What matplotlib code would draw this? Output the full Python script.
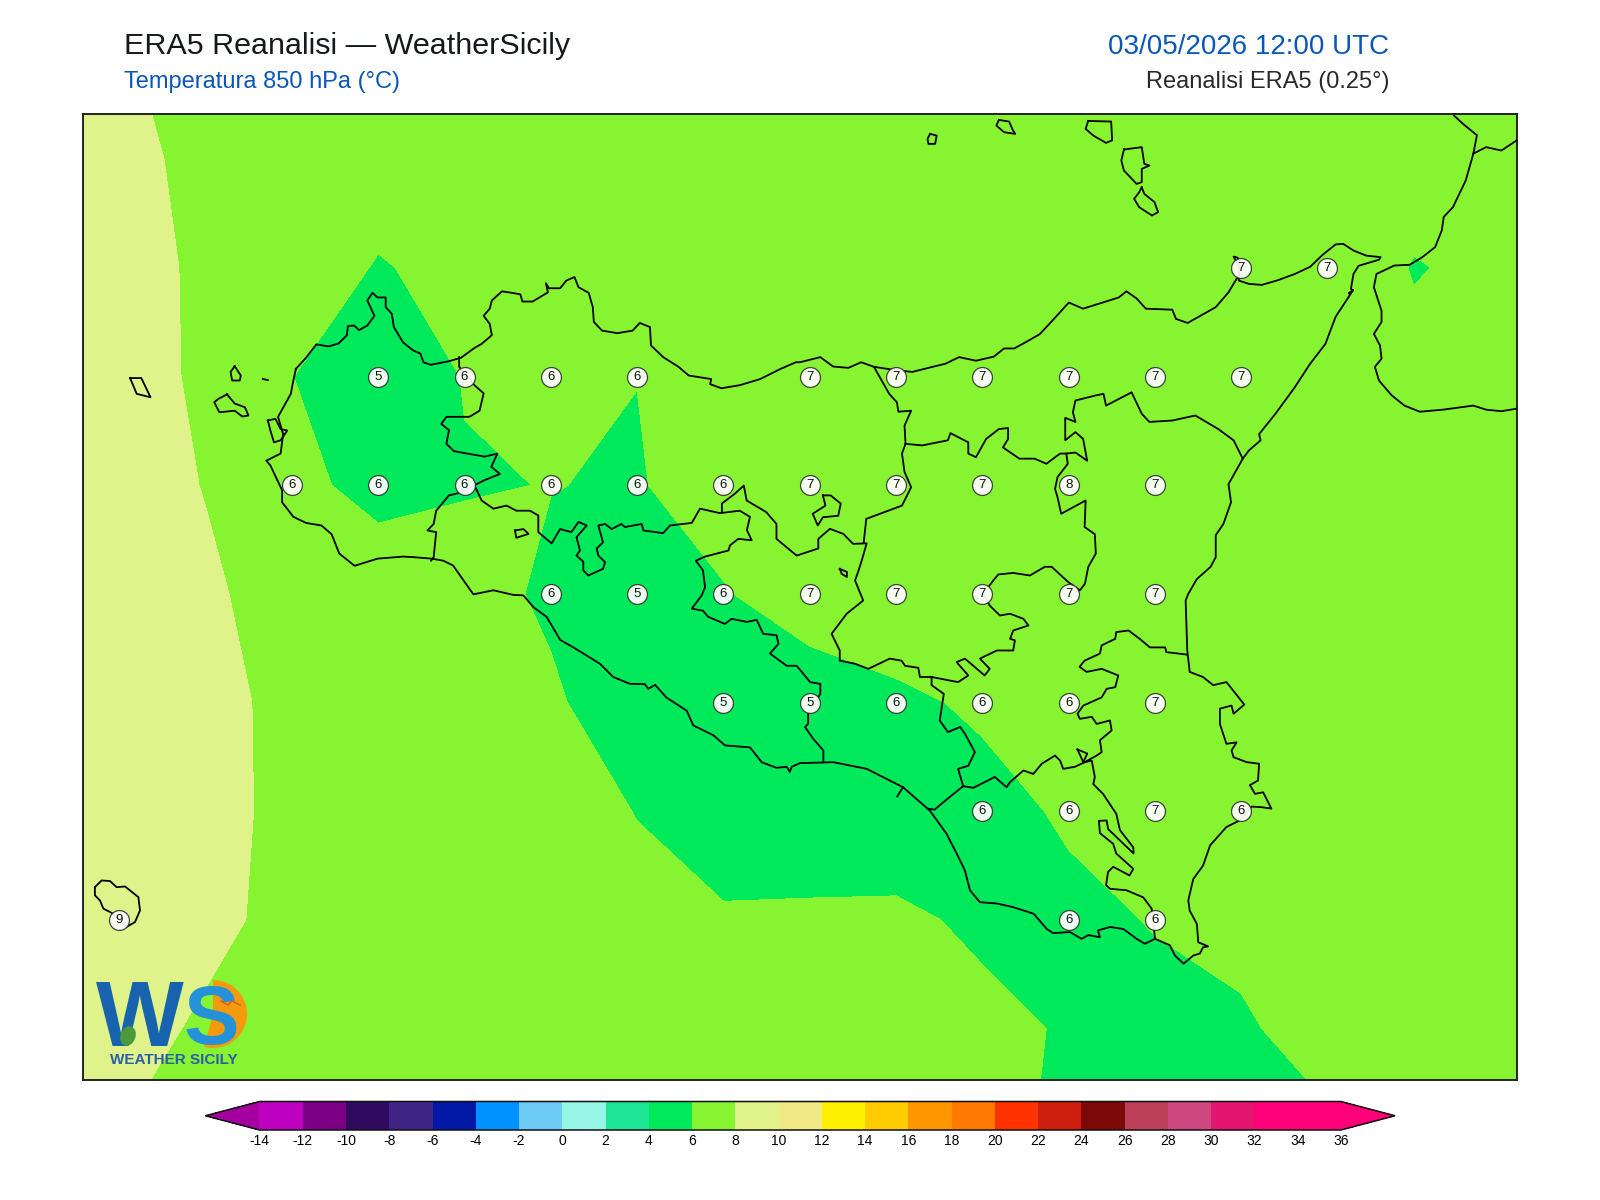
import numpy as np
import matplotlib
matplotlib.use("Agg")
import matplotlib.pyplot as plt
from matplotlib.colors import ListedColormap, BoundaryNorm
from matplotlib.patches import Wedge, Ellipse
from matplotlib.lines import Line2D
from matplotlib.transforms import IdentityTransform

plt.rcParams['font.family'] = ['Liberation Sans', 'DejaVu Sans']

# ---------------------------------------------------------------- data
lons = [11.75, 12.0, 12.25, 12.5, 12.75, 13.0, 13.25, 13.5, 13.75, 14.0, 14.25,
        14.5, 14.75, 15.0, 15.25, 15.5, 15.75, 16.0, 16.25]
lats = [38.75, 38.5, 38.25, 38.0, 37.75, 37.5, 37.25, 37.0, 36.75, 36.5, 36.25]

t_3875 = [8.5, 8.1, 7.51, 7.2, 6.9, 6.9, 6.9, 6.9, 6.9, 7.0, 7.0, 7.0, 7.0, 7.0, 7.0, 6.9, 6.8, 6.7, 6.6]
t_3850 = [8.6, 8.3, 7.72, 7.1, 6.67, 6.7, 6.7, 6.7, 6.8, 6.9, 6.9, 6.9, 6.9, 6.9, 6.9, 6.8, 6.4, 6.5, 6.5]
t_3825 = [8.7, 8.4, 7.82, 6.81, 5.9, 6.4, 6.5, 6.6, 6.7, 6.8, 6.9, 6.9, 6.9, 6.9, 6.8, 6.66, 5.95, 6.2, 6.4]
t_3800 = [8.9, 8.5, 7.80, 6.014, 5.3, 6.04, 6.2, 6.01, 6.6, 6.7, 6.9, 6.9, 7.0, 7.0, 6.9, 6.8, 6.26, 6.4, 6.5]
t_3775 = [9.0, 8.6, 7.95, 6.34, 5.6, 5.94, 6.0175, 5.93, 6.47, 6.9, 7.0, 7.2, 7.55, 7.2, 7.0, 6.9, 6.8, 6.8, 6.8]
t_3750 = [9.1, 8.7, 8.2, 7.46, 6.74, 6.35, 5.85, 5.2, 5.935, 6.5, 6.6, 7.0, 7.1, 7.0, 6.9, 6.9, 6.9, 6.9, 6.9]
t_3725 = [9.1, 8.8, 8.3, 7.74, 7.3, 6.9, 6.13, 5.45, 5.2, 5.46, 5.83, 6.13, 6.3, 6.6, 6.7, 6.8, 6.8, 6.8, 6.8]
t_3700 = [9.1, 8.8, 8.3, 7.76, 7.3, 7.0, 6.6, 5.96, 4.78, 5.2, 5.47, 5.72, 6.11, 6.6, 6.4, 6.6, 6.7, 6.7, 6.7]
t_3675 = [9.0, 8.7, 8.2, 7.77, 7.4, 7.1, 6.8, 6.4, 6.25, 6.2, 6.15, 5.86, 5.80, 6.04, 6.3, 6.4, 6.5, 6.6, 6.6]
t_3650 = [8.6, 8.31, 7.88, 7.6, 7.4, 7.2, 7.0, 6.9, 6.7, 6.6, 6.5, 6.2, 5.93, 5.77, 5.856, 6.456, 6.6, 6.6, 6.6]
t_3625 = [8.3, 7.98, 7.7, 7.5, 7.4, 7.2, 7.1, 7.0, 6.9, 6.7, 6.5, 6.3, 5.8, 5.5, 5.4, 5.79, 6.3, 6.5, 6.6]

# grid points that carry a value label: latitude -> list of longitudes
labelled = {
    38.25: [15.25, 15.5],
    38.0: [12.75, 13.0, 13.25, 13.5, 14.0, 14.25, 14.5, 14.75, 15.0, 15.25],
    37.75: [12.5, 12.75, 13.0, 13.25, 13.5, 13.75, 14.0, 14.25, 14.5, 14.75, 15.0],
    37.5: [13.25, 13.5, 13.75, 14.0, 14.25, 14.5, 14.75, 15.0],
    37.25: [13.75, 14.0, 14.25, 14.5, 14.75, 15.0],
    37.0: [14.5, 14.75, 15.0, 15.25],
    36.75: [12.0, 14.75, 15.0],
}

levels = [-14, -12, -10, -8, -6, -4, -2, 0, 2, 4, 6, 8, 10, 12, 14, 16, 18, 20, 22, 24, 26, 28, 30, 32, 34, 36]
band_colors = ['#BE00C0', '#7B0085', '#2F0A5F', '#3F2385', '#0018A5', '#0093FF', '#6ECBF5', '#96F5E6',
               '#1EE596', '#00E95A', '#87F431', '#E0F28A', '#F0E985', '#FFF000', '#FFCC00', '#FF9600',
               '#FF7800', '#FF3200', '#CD1E0E', '#7D0808', '#BC3F5A', '#CF4780', '#E5146E', '#FF0078', '#FF0078']
under_color = '#A3009F'
over_color = '#FF0078'

sicily_coast = [
 (290,361),(300,350),(310,337),(322,339),(332,336),(340,328),(341,319),(347,318.5),(352,323),(360,318.5),(367,309),
 (360,294),(365,286.5),(370,291),(378,291),(378,300.5),(384,307),(386,320),(395,335),(405,343),(412,346),(415,354.5),
 (422,357),(440,353.5),(452,350),(465,340.5),(472,336.5),(482,328),(480,317),(474,309),(480,302),(482,294),(492,285),
 (502,286.5),(510,288),(512,295),(522,295),(537,286),(535,277),(538,282),(549,282),(555,274.5),(563,271),(567,281),
 (577,286.5),(581,300.5),(582,315),(590,323.5),(605,326),(620,323.5),(627,316),(637,320),(638,338),(650,349.5),
 (665,359),(675,367.5),(697,371),(696,376),(707,380),(725,377),(745,371),(765,361),(780,354.5),(784,354.5),(804,349.5),
 (816.5,358.7),(831.5,360),(844,354.5),(856.5,359),(876.5,362),(894,364),(914,359),(926.5,356),(940,349.5),(956.5,353),
 (974,349),(984,341),(994,341),(1005,335),(1019,327),(1031.5,313.6),(1047.5,296),(1061.5,302),(1084,295),(1096.5,291),
 (1104,285),(1114,292),(1123,302),(1149,303),(1152.5,312),(1164,316),(1176.5,309),(1191.5,300.5),(1204,286),(1213,271),
 (1215,263),(1213,252),(1209,251),(1215,262),(1214,274.4),(1224,277.7),(1236.5,278.7),(1251.5,274.4),(1269,268),
 (1284,261),(1296.5,249),(1309,239),(1316.5,238.5),(1326.5,245),(1339,250),(1353,251.5),(1351.5,254),(1331.5,260),
 (1326.5,268),(1324,282.6),(1326,284),(1322,287),(1326,284),(1309,310),(1299,336.5),(1284,356),(1269,379),(1250,405),
 (1234,425),(1235.5,431),(1224,441),(1218,449),(1204,474),(1206.5,491.7),(1199,513),(1191.5,524),(1191.5,545.6),
 (1186.5,555),(1173,567),(1164.6,581.5),(1162,588),(1163.6,637),(1166,658),(1179,663),(1189,671),(1202,668),
 (1219.5,690),(1209,699),(1207,691),(1195.6,694),(1195.6,709),(1202,728.5),(1212,727),(1207,735),(1209,741.6),
 (1222,746.5),(1234,748),(1233,764.4),(1225,769),(1230,777.5),(1238,776),(1246,792),(1236.5,790.6),(1226.6,790),
 (1215,803.6),(1202,810),(1186,828),(1179,848),(1169.5,861),(1164.6,882),(1166,892),(1173,905),(1174.4,923),(1184,927),
 (1179,928),(1176,934),(1169.5,936),(1160,944),(1151.5,936),(1146.6,926),(1132,919.6),(1122,924.5),(1114,919.6),
 (1101,910),(1088,908),(1076,911.4),(1078,918),(1066.6,916),(1060,919.6),(1048.6,913),(1032,914),(1026,910),(1013,895),
 (993,888.6),(977,885),(960.4,883.7),(950.6,872),(945.7,852.6),(937.6,836),(927.7,816.7),(911.4,794),(885,771),
 (872,764.4),(849.4,753),(816.7,746.5),(784,747.4),(776,751),(774,756),(771,751),(761,752),(746.5,746.5),(735,732),
 (710.5,730),(699,720),(679.5,710.5),(673,696),(653,683),(642,670.7),(635.4,674.6),(632,670),(617.4,669.7),(601,663),
 (588,650),(571.7,640),(562,634),(549,626.6),(535.7,604),(522.7,594.5),(513,583),(503,582.5),(483.5,578),(464,582),
 (459,575),(444,553.7),(434.5,549),(423,547),(405,545.5),(395,545),(370,547),(347.5,554),(332.5,542),(325,523),
 (315,514.5),(300,512),(287.5,506),(276.5,491.7),(276.5,480),(265,455.7),(261,451),(275,444),(277.5,425),(272.5,408),
 (285,385.5),(287.5,372.4),(290,361)]

border_trapani = [(450,349.5),(450,359),(465,377),(474,385),(470,402),(460,408),(452.5,408),(437.5,408),(432.5,415),
 (440,421),(437.5,434.5),(445,441.7),(475,447),(487.5,444),(481.5,457),(490,464),(475,470),(465,475),(452.5,482),
 (440,485),(427.5,500),(425,513),(419,519.4),(427.5,521),(425,545.6),(422.5,549)]
border_agrigento = [(465,475),(472,490),(483.5,498),(496.5,495),(506,500),(519.4,500),(527.6,504.7),(527.6,521),
 (540.6,532),(549,518),(560,521),(567,511),(575,514.5),(565,526),(568.4,539),(565,544),(571.7,550),(571.7,558.6),
 (576.6,563.5),(591,557),(593,550.4),(586.4,544),(584.8,537),(591,531),(586.4,514.5),(593,513),(599.5,518),(609,513),
 (612.5,516),(629,513),(630.5,519.4),(650,522),(656.6,514.5),(678,512),(686,498),(705.6,502.4),(725,500),(735,506),
 (732,519),(736.7,529),(723.6,527.6),(715.4,534),(714,539),(691,545),(682,549),(689,558.6),(691,575),(687.7,583),
 (678,596),(689,598),(694,604),(710.5,611),(717,606),(732,609),(741.6,607),(748,620.7),(761,622),(763,630.5),
 (754.6,640),(771,652),(780.8,652),(794,668),(804,669.7),(804,679.5),(792,699),(792,709),(789,712),(797,723.6),
 (807,735),(807,746.5)]
border_palermo_e = [(707.5,501.5),(707.5,493),(720,483.5),(729,475.4),(731.8,490),(751,501.4),(761,513),(761,527.6),
 (780.8,544),(802,537),(802,527.6),(813.4,517.8),(826.5,522.7),(836,532.5),(849.4,532),(844.5,549),(841,560),
 (838,568.4),(846,588),(829.8,601),(815,620.7),(823,637),(823,647),(838,650),(851,655),(872,645),(883.6,647),(887,652),
 (900,654),(901.6,663),(913,663),(939,668),(949,661.5),(937.5,648.4),(945.7,645),(965,661.5),(970,655),(960.4,645),
 (977,637),(993,637),(994.7,627),(990,625.6),(993,617.4),(1008,612.5),(1003,606),(990,601),(980,602.7),(970,593),
 (963.7,581.5),(973.5,568.4),(978.4,562.5),(993,561),(1009.4,563.5),(1024,555),(1030.7,555),(1047,570),(1058.4,578),
 (1063.3,571.7),(1066.6,555),(1074,542),(1073,523),(1063,516),(1064,490),(1040,503),(1036.5,487),(1034,478.6),
 (1036.5,467),(1046.5,454),(1045,444),(1054,443),(1065.5,451),(1061.5,429.6),(1054,423),(1044,431),(1044,409),
 (1054,413),(1051.5,403.5),(1054,392),(1074,387),(1081.5,385.5),(1084,397),(1109,384),(1119,405),(1126.5,413),
 (1149,411.6),(1171.5,406.7),(1194,420),(1209,431),(1218,449)]
border_messina = [(856.5,359),(871.5,385.5),(879,393.7),(880.5,403),(893,402),(886.5,416.5),(887.5,434.5),(884,444),
 (886.5,462),(893,477),(884,495),(866.5,501.5),(849,508),(846.5,531)]
border_enna = [(887.5,434.5),(904,436),(929,431),(931.5,424),(949,433),(949,444),(956.5,447.6),(966.5,429.6),(979,420),
 (988,419),(988,429.6),(983,438),(999,449),(1014,449),(1025.5,454),(1039,444),(1045,444)]
border_siracusa = [(1163,641),(1143,638.6),(1142,634),(1127,634),(1117,625.6),(1106,617.4),(1094,619),(1093,625.6),
 (1079.7,632),(1078,640),(1063,647),(1058,653),(1065,658),(1079.7,655),(1096,661.5),(1093,673),(1084.6,674.6),
 (1079.7,683),(1061.7,691),(1056,699),(1058.4,704),(1070,702),(1074.8,709),(1087.8,705.6),(1089.5,715.4),(1078,725),
 (1079.7,736.6),(1074.8,740),(1063,746.5),(1053.5,751),(1042,753),(1039,745),(1034,740),(1021,748),(1012.7,758),
 (1003,754.6),(990,766),(986.5,771),(975,761),(954,771.6),(944,770),(929,782),(916,793),(909,792)]
border_gela = [(944,770),(939,753),(949,750),(955.5,736.6),(945.7,718.7),(941,712),(929,717),(921,705.6),(925,679.5),
 (913,671),(913,663)]
border_ragusa = [(1063,746.5),(1070,745),(1073,761),(1071.5,768),(1081,777.5),(1094,797),(1097.6,813),(1110.7,830),
 (1111,836),(1096,821.6),(1086,812),(1084.6,803.6),(1077,804),(1078,816),(1091,826.5),(1094,836),(1110.7,851),
 (1107,857.5),(1091,849),(1086,854),(1084,867),(1088,870.6),(1104,872),(1120.5,879),(1128.7,890),(1132,919.6)]
spur_caltagirone = [(1056,734),(1065.6,738),(1061.7,746.5),(1056,734)]
spur_gela = [(885,771),(879.4,780)]
lagoon_stagnone = [(262.5,411.6),(270,410),(275,420),(281.5,421.4),(275,431),(268.5,433),(265,421.4),(262.5,411.6)]
lake_pozzillo = [(806.5,485),(814,485),(824,493),(821.5,505),(806.5,506.4),(801.5,514.5),(796.5,503),(809,495),(806.5,485)]
lake_small = [(823,557),(830,560),(830,565),(825,562),(823,557)]
lake_west = [(504.7,519.4),(513,518),(518,522.7),(506,526.6),(504.7,519.4)]
calabria_coast = [(1425,112.7),(1434,121),(1447.5,132),(1444,150),(1436.5,176.4),(1424,202.5),(1415,212),(1413,225.4),
 (1406.5,241.7),(1394,251.5),(1381.5,259),(1366.5,259.7),(1349,268),(1346.5,281),(1354,304),(1354,315),(1346.5,326.7),
 (1352.5,338),(1354,351),(1347.5,359),(1351.5,372.4),(1364,387),(1376.5,397),(1391.5,403),(1414,401),(1444,397),
 (1456.5,401),(1471.5,402.5),(1486.5,400)]
calabria_border = [(1444,150),(1456.5,143.7),(1471.5,147),(1486.5,137)]
alicudi = [(911.5,130.7),(918,132.3),(916.5,140.5),(910,140.5),(909,135.6),(911.5,130.7)]
filicudi = [(979,117),(989,118.6),(992.5,126.7),(995,130.7),(984,129),(976.5,122.5),(979,117)]
salina = [(1066.5,118),(1089,118.6),(1090,137),(1084,139.5),(1071.5,132.3),(1064,125.8),(1066.5,118)]
lipari = [(1101.5,146),(1119,143.7),(1121.5,160),(1126.5,161.7),(1119,165),(1119,178),(1114,179.7),(1101.5,166.6),
 (1099,156.8),(1101.5,146)]
vulcano = [(1119,183),(1121.5,189.5),(1131.5,197.6),(1135,207.4),(1129,210.7),(1116.5,202.5),(1111.5,194.4),
 (1116.5,187.8),(1119,183)]
levanzo = [(230,358.4),(236,367.5),(235,372.4),(227.5,372.4),(226,364),(230,358.4)]
favignana = [(222.5,386),(230,395),(240,398.6),(243.5,406.7),(237.5,407.7),(230,402),(215,403.5),(210,393.7),
 (214,390.4),(222.5,386)]
marettimo = [(127.5,370),(138.5,370),(147.5,388.8),(134,385.5),(127.5,370)]
formica = [(257.5,370.8),(262.5,372)]
pantelleria = [(93,869),(99.6,862.4),(107.8,863),(114.3,869),(122.5,868.3),(135.6,878.7),(137.2,891.8),(132.3,903.2),
 (124,908),(111,895),(101.3,890),(98,882),(93,877),(93,869)]

outlines = [sicily_coast, border_trapani, border_agrigento, border_palermo_e, border_messina, border_enna,
            border_siracusa, border_gela, border_ragusa, spur_caltagirone, spur_gela, lagoon_stagnone,
            lake_pozzillo, lake_small, lake_west, calabria_coast, calabria_border, alicudi, filicudi, salina,
            lipari, vulcano, levanzo, favignana, marettimo, formica, pantelleria]


def to_lonlat(path):
    arr = np.array(path, dtype=float)
    return 12.0 + (arr[:, 0] - 117.0) / 338.28, 38.25 - (arr[:, 1] - 262.0) / 426.0


# ---------------------------------------------------------------- figure
W, H = 1600, 1200
fig = plt.figure(figsize=(W / 100, H / 100), dpi=100)
ax = fig.add_axes([83 / W, 1 - 1080 / H, (1517 - 83) / W, (1080 - 114) / H])

field = np.array([t_3875, t_3850, t_3825, t_3800, t_3775, t_3750, t_3725, t_3700, t_3675, t_3650, t_3625])
cmap = ListedColormap(band_colors)
cmap.set_under(under_color)
cmap.set_over(over_color)
norm = BoundaryNorm(levels, cmap.N)
cs = ax.contourf(lons, lats, field, levels=levels, cmap=cmap, norm=norm, extend='both', antialiased=False)

ax.set_xlim(11.8946, 16.0492)
ax.set_ylim(36.3815, 38.604)
ax.set_xticks([])
ax.set_yticks([])
for s in ax.spines.values():
    s.set_linewidth(1.4)
    s.set_color('#222222')

for path in outlines:
    lo, la = to_lonlat(path)
    ax.plot(lo, la, color='black', lw=1.3, solid_joinstyle='round', zorder=3)

# value labels
for lat, lon_list in labelled.items():
    row = lats.index(lat)
    for lon in lon_list:
        val = field[row, lons.index(lon)]
        ax.scatter([lon], [lat], s=205, facecolor='white', alpha=0.93, edgecolor='#333333',
                   linewidth=0.9, zorder=5)
        ax.text(lon, lat, str(int(np.floor(val + 0.5))), ha='center', va='center', fontsize=9.5,
                color='#111111', zorder=6)

# colour bar (tip to tip)
cax = fig.add_axes([205.4 / W, 1 - 1130 / H, (1395 - 205.4) / W, (1130 - 1101.5) / H])
cb = fig.colorbar(cs, cax=cax, orientation='horizontal', ticks=levels, extend='both',
                  extendfrac=0.05, spacing='uniform', drawedges=False)
cb.ax.tick_params(length=0, pad=3, labelsize=10, colors='black')
cb.set_ticklabels([str(v) for v in levels])
cb.outline.set_linewidth(1.1)
cb.outline.set_edgecolor('#111111')

# titles
BLUE = '#0A57B8'
fig.text(124 / W, 1 - 54 / H, 'ERA5 Reanalisi \u2014 WeatherSicily', fontsize=21.95, color='#15191E', va='baseline')
fig.text(124 / W, 1 - 88 / H, 'Temperatura 850 hPa (\u00b0C)', fontsize=17, color=BLUE, va='baseline')
fig.text(1389 / W, 1 - 54 / H, '03/05/2026 12:00 UTC', fontsize=20, color=BLUE, va='baseline', ha='right')
fig.text(1389 / W, 1 - 88 / H, 'Reanalisi ERA5 (0.25\u00b0)', fontsize=17, color='#2A2A2A', va='baseline', ha='right')

# logo (drawn shapes and real text)
px = IdentityTransform()
def P(x, y):
    return (x, H - y)

fig.add_artist(Wedge(P(213, 1014), 34, -105, 90, facecolor='#F59A0C', edgecolor='none', transform=px, zorder=7))
fig.text(96 / W, 1 - 1046 / H, 'W', fontsize=67, fontweight='bold', color='#1763AE', va='baseline', zorder=8)
fig.text(184 / W, 1 - 1044 / H, 'S', fontsize=60, fontweight='bold', color='#2591D9', va='baseline', zorder=9)
fig.add_artist(Ellipse(P(128, 1036), 15, 20, angle=-20, facecolor='#4C9A3C', edgecolor='none', transform=px, zorder=9))
fig.add_artist(Line2D([221, 228, 232, 240], [H - 1001, H - 1005, H - 1001, H - 1005], color='#C9621C', lw=1.0,
                      transform=px, zorder=10))
fig.text(173.5 / W, 1 - 1060 / H, 'WEATHER SICILY', fontsize=11, fontweight='bold', color='#2B5EA6',
         ha='center', va='center', zorder=8)

fig.savefig('out.png', dpi=100)
